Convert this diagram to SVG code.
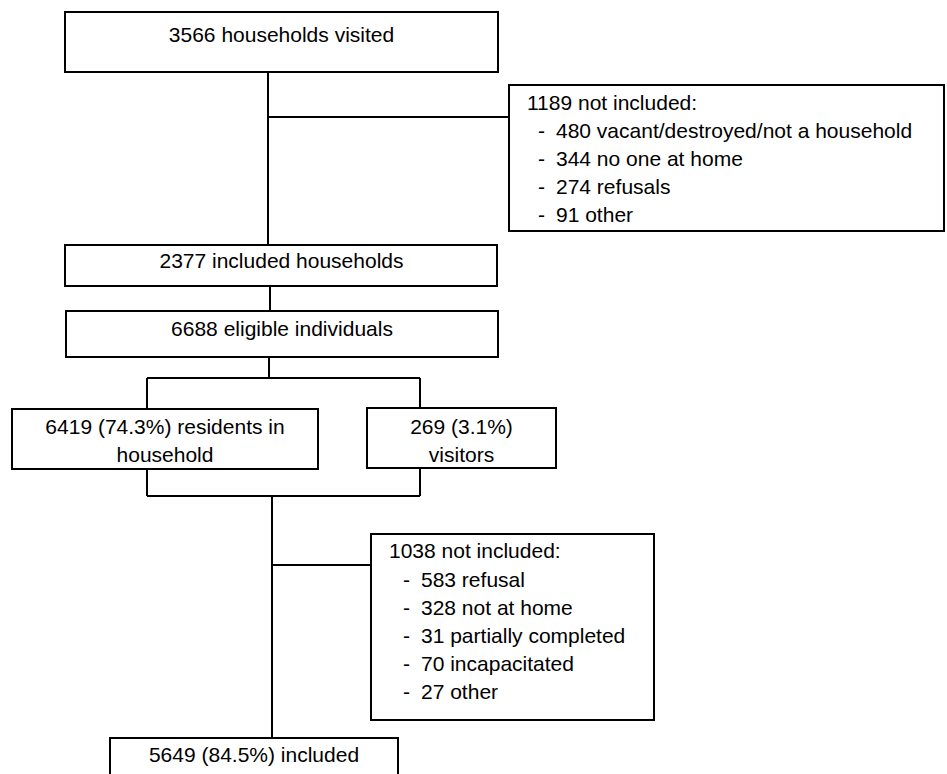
<svg xmlns="http://www.w3.org/2000/svg" width="947" height="774" viewBox="0 0 947 774">
<style>
.box{fill:#fff;stroke:#000;stroke-width:2}
.ln{fill:none;stroke:#000;stroke-width:2}
text{font-family:"Liberation Sans",Arial,sans-serif;font-size:21px;fill:#000}
.c{text-anchor:middle}
</style>
<rect width="947" height="774" fill="#fff"/>
<g id="connectors">
<path class="ln" d="M268 72V245M268 117H509"/>
<path class="ln" d="M270 286V311"/>
<path class="ln" d="M269 357V378M147 378H420M147 378V409M420 378V408"/>
<path class="ln" d="M147 469V496M420 468V496M147 496H420M272 496V738M272 565H371"/>
</g>
<g id="n1"><rect class="box" x="65" y="12" width="433" height="60"/><text class="c" x="281.5" y="42">3566 households visited</text></g>
<g id="n2"><rect class="box" x="509" y="85" width="435" height="146"/>
<text x="527" y="110">1189 not included:</text>
<text x="538" y="138">-</text><text x="556" y="138">480 vacant/destroyed/not a household</text>
<text x="538" y="166">-</text><text x="556" y="166">344 no one at home</text>
<text x="538" y="194">-</text><text x="556" y="194">274 refusals</text>
<text x="538" y="222">-</text><text x="556" y="222">91 other</text>
</g>
<g id="n3"><rect class="box" x="65" y="245" width="432" height="41"/><text class="c" x="281.5" y="268">2377 included households</text></g>
<g id="n4"><rect class="box" x="66" y="311" width="432" height="46"/><text class="c" x="282" y="336">6688 eligible individuals</text></g>
<g id="n5"><rect class="box" x="12" y="409" width="306" height="60"/><text class="c" x="165" y="434">6419 (74.3%) residents in</text><text class="c" x="165" y="462">household</text></g>
<g id="n6"><rect class="box" x="367" y="408" width="189" height="60"/><text class="c" x="461.5" y="434">269 (3.1%)</text><text class="c" x="461.5" y="462">visitors</text></g>
<g id="n7"><rect class="box" x="371" y="534" width="283" height="186"/>
<text x="389" y="558">1038 not included:</text>
<text x="403" y="587">-</text><text x="421" y="587">583 refusal</text>
<text x="403" y="615">-</text><text x="421" y="615">328 not at home</text>
<text x="403" y="643">-</text><text x="421" y="643">31 partially completed</text>
<text x="403" y="671">-</text><text x="421" y="671">70 incapacitated</text>
<text x="403" y="699">-</text><text x="421" y="699">27 other</text>
</g>
<g id="n8"><rect class="box" x="110" y="738" width="288" height="60"/><text class="c" x="254" y="762">5649 (84.5%) included</text></g>
</svg>
